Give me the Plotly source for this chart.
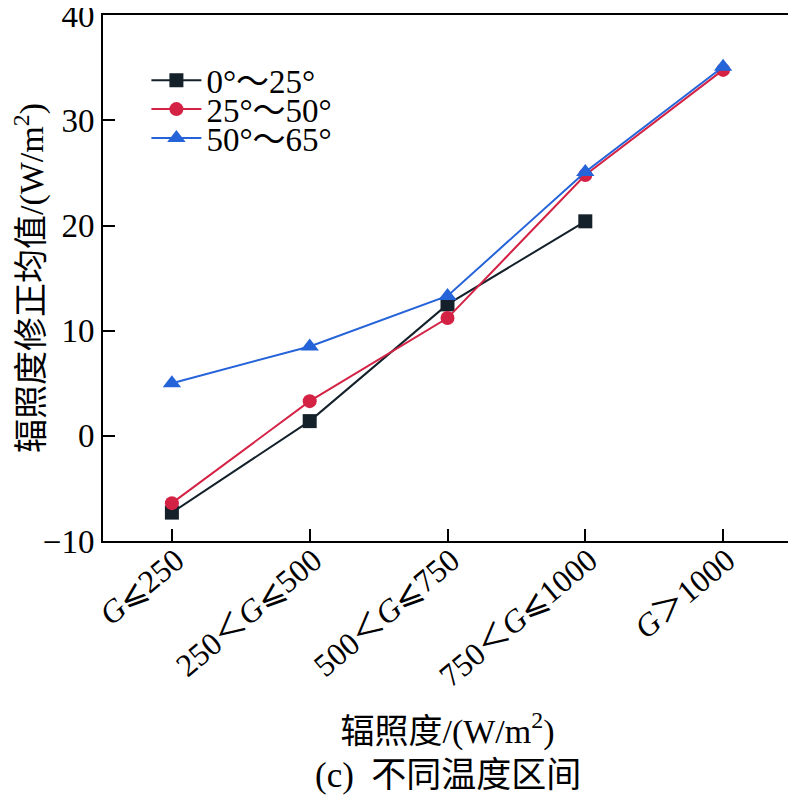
import plotly.graph_objects as go

categories = ["<i>G</i>⩽250", "250＜<i>G</i>⩽500", "500＜<i>G</i>⩽750", "750＜<i>G</i>⩽1000", "<i>G</i>＞1000"]
series_names = ["0°～25°", "25°～50°", "50°～65°"]
s1 = [-7.3, 1.4, 12.5, 20.4, None]
s2 = [-6.4, 3.3, 11.2, 24.8, 34.8]
s3 = [5.0, 8.5, 13.3, 25.1, 35.1]
y_ticks = [-10, 0, 10, 20, 30, 40]

colors = ["#14212b", "#d42245", "#2563d9"]
symbols = ["square", "circle", "triangle-up"]
legend_ids = ["legend", "legend2", "legend3"]
legend_y = [0.876, 0.821, 0.766]
FONT = "Liberation Serif, Times New Roman, Noto Sans CJK SC, serif"

fig = go.Figure()
xs = list(range(len(categories)))
for name, vals, c, sym, lid in zip(series_names, [s1, s2, s3], colors, symbols, legend_ids):
    fig.add_trace(go.Scatter(
        x=xs, y=vals, name=name, mode="lines+markers", legend=lid,
        line=dict(color=c, width=2),
        marker=dict(symbol=sym, size=14 if sym != "triangle-up" else 16, color=c),
    ))

leg_common = dict(x=0.063, xanchor="left", yanchor="middle", itemwidth=50,
                  bgcolor="rgba(0,0,0,0)", font=dict(size=33, family=FONT, color="black"))
fig.update_layout(
    width=788, height=792,
    margin=dict(l=95, r=4, t=7, b=259),
    paper_bgcolor="white", plot_bgcolor="white",
    font=dict(family=FONT, size=30, color="black"),
    showlegend=True,
    legend=dict(y=legend_y[0], **leg_common),
    legend2=dict(y=legend_y[1], **leg_common),
    legend3=dict(y=legend_y[2], **leg_common),
    xaxis=dict(
        range=[-0.5, 4.5], tickmode="array", tickvals=xs, ticktext=categories,
        ticks="inside", ticklen=12, tickwidth=2, tickcolor="black",
        showline=True, linecolor="black", linewidth=2, mirror=True,
        showgrid=False, zeroline=False, tickangle=-40, automargin=False,
        ticklabelstandoff=-14, ticklabelshift=4,
        tickfont=dict(size=32, family=FONT),
        title=dict(text="辐照度/(W/m<sup>2</sup>)", font=dict(size=34, family=FONT), standoff=26),
    ),
    yaxis=dict(
        range=[-10, 40.02], tickmode="array", tickvals=y_ticks,
        ticktext=[("−10" if v < 0 else str(v)) for v in y_ticks],
        ticks="inside", ticklen=12, tickwidth=2, tickcolor="black",
        showline=True, linecolor="black", linewidth=2, mirror=True,
        showgrid=False, zeroline=False, automargin=False,
        ticklabeloverflow="allow",
        tickfont=dict(size=33, family=FONT),
        title=dict(text="辐照度修正均值/(W/m<sup>2</sup>)", font=dict(size=34, family=FONT), standoff=2),
    ),
)

fig.add_annotation(
    text="(c)  不同温度区间", xref="paper", yref="paper",
    x=0.5, y=-0.445, xanchor="center", yanchor="middle",
    showarrow=False, font=dict(size=35, family=FONT, color="black"),
)

fig.write_html("out.html")
